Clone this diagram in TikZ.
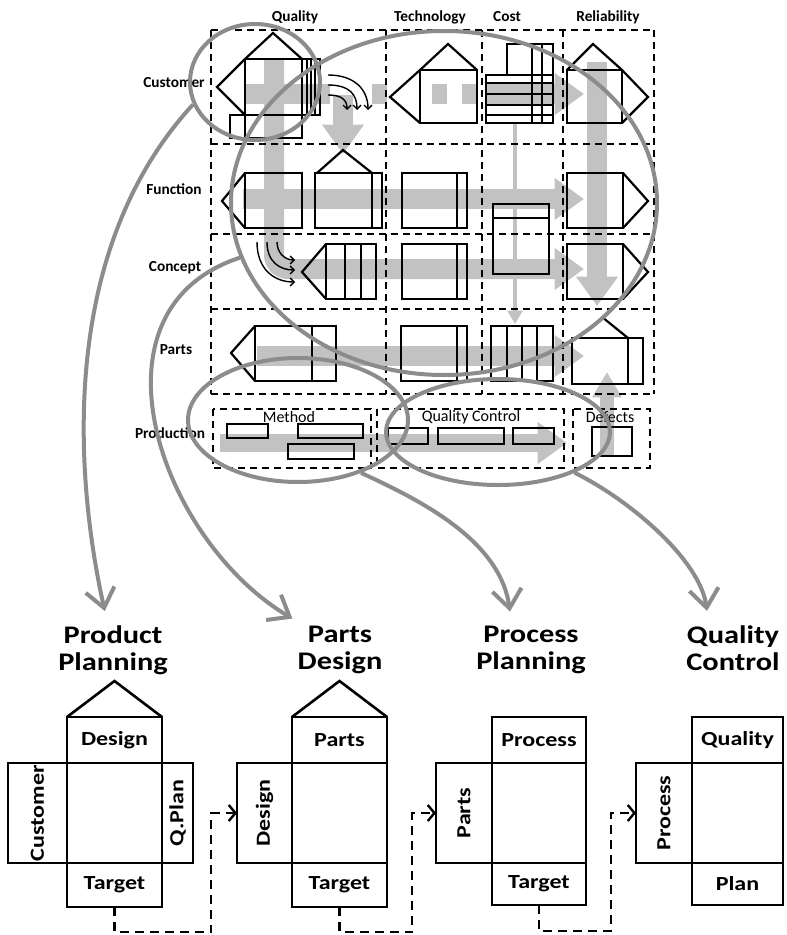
\documentclass[tikz,border=0pt]{standalone}
\usepackage{graphicx}
\usepackage{fontspec}
\setmainfont{Carlito}
\newfontfamily\boxfont[FakeStretch=1.2]{Carlito}
\usetikzlibrary{arrows.meta, positioning, shapes.geometric}
\newlength{\px}
\setlength{\px}{0.75pt}
\definecolor{bandgray}{gray}{0.76}
\definecolor{ringgray}{gray}{0.55}

\tikzset{
  gridline/.style={dash pattern=on 7\px off 5\px, line width=1.8\px},
  flowband/.style={bandgray, line width=20\px},
  bandtip/.style={-{Triangle[length=22pt,width=30pt]}},
  partline/.style={line width=2.2\px},
  ringshape/.style={draw=ringgray, line width=4\px, ellipse, inner sep=0pt},
  bigarrow/.style={ringgray, line width=4\px, -{Straight Barb[length=14pt,width=22pt]}, shorten >=11pt},
  hookarrow/.style={line width=1.4\px, -{Straight Barb[length=3pt,width=6pt]}},
  collabel/.style={inner sep=0pt, font=\fontsize{11.5}{13}\selectfont\bfseries},
  sublabel/.style={inner sep=0pt, font=\fontsize{12}{13}\selectfont},
  titlelabel/.style={inner sep=0pt, align=center, font=\fontsize{19}{20}\boxfont\bfseries},
  housecell/.style={draw, line width=2.6\px, inner sep=0pt, outer sep=0pt,
    font=\fontsize{15}{17}\boxfont\bfseries},
  handover/.style={dash pattern=on 9\px off 6\px, line width=2.4\px,
    -{Straight Barb[length=5pt,width=12pt]}}
}

\begin{document}
\begin{tikzpicture}[x=0.75pt, y=-0.75pt]
  \path[use as bounding box, fill=white] (0,0) rectangle (786,935);

  % Gray flow bands
  \draw[flowband] (245,94) -- (330,94);
  \draw[flowband, dash pattern=on 15\px off 45\px on 15\px off 15\px on 15\px off 15\px] (372,94) -- (478,94);
  \draw[flowband, bandtip] (486,94) -- (584,94);
  \draw[flowband, bandtip] (343,95) -- (343,154);
  \draw[flowband, bandtip, rounded corners=14\px] (274,59) |- (584,269);
  \draw[flowband, bandtip] (243,199) -- (584,199);
  \draw[flowband, bandtip] (257,356) -- (584,356);
  \draw[flowband, bandtip] (597,62) -- (597,306);
  \draw[flowband, bandtip, line width=18\px] (220,443) -- (567,443);
  \draw[flowband, line width=14\px, -{Triangle[length=19pt,width=21pt]}] (607,456) -- (607,372);
  \draw[bandgray, line width=4\px, -{Triangle[length=10pt,width=11pt]}] (515,123) -- (515,324);

  % Grid
  \foreach \y in {30,144,234,309,394}
    \draw[gridline] (211,\y) -- (654,\y);
  \foreach \x in {211,386,482,563,654}
    \draw[gridline] (\x,30) -- (\x,394);
  \draw[gridline] (213,409) rectangle (371,468);
  \draw[gridline] (377,409) rectangle (564,468);
  \draw[gridline] (573,409) rectangle (650,468);

  % Labels
  \node[collabel] (hdQuality) at (295,17) {Quality};
  \node[collabel] (hdTechnology) at (430,17) {Technology};
  \node[collabel] (hdCost) at (507,17) {Cost};
  \node[collabel] (hdReliability) at (608,17) {Reliability};
  \node[collabel] (rwCustomer) at (174,83) {Customer};
  \node[collabel] (rwFunction) at (174,189) {Function};
  \node[collabel] (rwConcept) at (175,268) {Concept};
  \node[collabel] (rwParts) at (176,350) {Parts};
  \node[collabel] (rwProduction) at (170,433) {Production};
  \node[sublabel] (lbMethod) at (289,417) {Method};
  \node[sublabel] (lbControl) at (471,417) {Quality Control};
  \node[sublabel] (lbDefects) at (610,417) {Defects};

  % Customer row
  \draw[partline] (245,59) rectangle (302,115);
  \draw[partline] (245,59) -- (273,33) -- (302,59);
  \draw[partline] (245,59) -- (217,87) -- (245,115);
  \draw[partline] (302,59) rectangle (320,115);
  \foreach \x in {307,311,315}
    \draw[partline] (\x,59) -- (\x,115);
  \draw[partline] (230,115) rectangle (302,138);
  \draw[partline] (245,115) -- (245,138);
  \draw[hookarrow] (328,75) .. controls (355,75) and (368,90) .. (368,110);
  \draw[hookarrow] (328,85) .. controls (350,85) and (357,95) .. (357,110);
  \draw[hookarrow] (328,95) .. controls (342,95) and (347,100) .. (347,110);
  \draw[partline] (420,70) rectangle (477,123);
  \draw[partline] (420,70) -- (448,44) -- (477,70);
  \draw[partline] (420,70) -- (390,97) -- (420,123);
  \draw[partline] (486,75) rectangle (553,123);
  \foreach \y in {83,94,105,115}
    \draw[partline] (486,\y) -- (553,\y);
  \draw[partline] (507,75) -- (507,44) -- (553,44) -- (553,75);
  \foreach \x in {532,542}
    \draw[partline] (\x,44) -- (\x,123);
  \draw[partline] (567,70) rectangle (622,123);
  \draw[partline] (567,70) -- (593,44) -- (622,70);
  \draw[partline] (622,70) -- (648,97) -- (622,123);

  % Function row
  \draw[partline] (245,173) rectangle (302,228);
  \draw[partline] (245,173) -- (222,201) -- (245,228);
  \draw[partline] (315,173) rectangle (382,228);
  \draw[partline] (372,173) -- (372,228);
  \draw[partline] (317,173) -- (343,150) -- (372,173);
  \draw[partline] (402,173) rectangle (467,228);
  \draw[partline] (457,173) -- (457,228);
  \draw[partline] (493,204) rectangle (549,274);
  \draw[partline] (493,218) -- (549,218);
  \draw[partline] (567,173) rectangle (623,228);
  \draw[partline] (623,173) -- (648,201) -- (623,228);

  % Concept row
  \draw[partline] (326,244) rectangle (376,299);
  \foreach \x in {345,361}
    \draw[partline] (\x,244) -- (\x,299);
  \draw[partline] (326,244) -- (302,272) -- (326,299);
  \draw[hookarrow] (257,242) .. controls (257,270) and (275,282) .. (295,282);
  \draw[hookarrow] (267,242) .. controls (267,262) and (280,270) .. (295,270);
  \draw[hookarrow] (277,242) .. controls (277,253) and (285,260) .. (295,260);
  \draw[partline] (402,244) rectangle (467,299);
  \draw[partline] (457,244) -- (457,299);
  \draw[partline] (567,244) rectangle (623,299);
  \draw[partline] (623,244) -- (648,272) -- (623,299);

  % Parts row
  \draw[partline] (255,326) rectangle (336,381);
  \draw[partline] (312,326) -- (312,381);
  \draw[partline] (255,326) -- (231,353) -- (255,381);
  \draw[partline] (401,326) rectangle (467,381);
  \draw[partline] (457,326) -- (457,381);
  \draw[partline] (491,326) rectangle (553,381);
  \foreach \x in {507,522,537}
    \draw[partline] (\x,326) -- (\x,381);
  \draw[partline] (572,338) rectangle (643,384);
  \draw[partline] (628,338) -- (628,384);
  \draw[partline] (602,317) -- (628,338);

  % Production row
  \draw[partline] (227,424) rectangle (268,438);
  \draw[partline] (298,424) rectangle (363,438);
  \draw[partline] (288,444) rectangle (354,459);
  \draw[partline] (388,428) rectangle (428,444);
  \draw[partline] (438,428) rectangle (504,444);
  \draw[partline] (513,428) rectangle (554,444);
  \draw[partline] (592,427) rectangle (632,456);

  % Rings
  \node[ringshape, minimum width=130\px, minimum height=116\px] (custRing) at (255,82) {};
  \node[ringshape, minimum width=426\px, minimum height=344\px] (bigRing) at (444,203) {};
  \node[ringshape, minimum width=220\px, minimum height=124\px] (methRing) at (298,420) {};
  \node[ringshape, minimum width=224\px, minimum height=106\px] (qcRing) at (498,432) {};

  % Titles
  \node[titlelabel] (ppTitle) at (113,650) {Product\\Planning};
  \node[titlelabel] (pdTitle) at (340,650) {Parts\\Design};
  \node[titlelabel] (prTitle) at (531,650) {Process\\Planning};
  \node[titlelabel] (qcTitle) at (733,648) {Quality\\Control};

  \draw[bigarrow] (custRing.200) .. controls (50,260) and (80,500) .. ([xshift=-5\px]ppTitle.north);
  \draw[bigarrow] (bigRing.195) .. controls (80,310) and (160,540) .. ([xshift=-35\px]pdTitle.north);
  \draw[bigarrow] (methRing.-40) .. controls (420,500) and (500,540) .. ([xshift=-19\px]prTitle.north);
  \draw[bigarrow] (qcRing.-28) .. controls (630,500) and (700,560) .. ([xshift=-24\px]qcTitle.north);

  % Product planning house
  \node[housecell, minimum width=95\px, minimum height=100\px] (ppMain) at (114.5,813) {};
  \node[housecell, minimum width=95\px, minimum height=46\px, above=0pt of ppMain] (ppTop) {Design};
  \node[housecell, minimum width=95\px, minimum height=44\px, below=0pt of ppMain] (ppBot) {Target};
  \node[housecell, minimum width=59\px, minimum height=100\px, left=0pt of ppMain] (ppLeft) {\rotatebox{90}{Customer}};
  \node[housecell, minimum width=31\px, minimum height=100\px, right=0pt of ppMain] (ppRight) {\rotatebox{90}{Q.Plan}};
  \draw[line width=2.6\px] (ppTop.north west) -- ++(47.5,-36) -- (ppTop.north east);

  % Parts design house
  \node[housecell, minimum width=95\px, minimum height=100\px] (pdMain) at (339.5,813) {};
  \node[housecell, minimum width=95\px, minimum height=46\px, above=0pt of pdMain] (pdTop) {Parts};
  \node[housecell, minimum width=95\px, minimum height=44\px, below=0pt of pdMain] (pdBot) {Target};
  \node[housecell, minimum width=55\px, minimum height=100\px, left=0pt of pdMain] (pdLeft) {\rotatebox{90}{Design}};
  \draw[line width=2.6\px] (pdTop.north west) -- ++(47.5,-36) -- (pdTop.north east);

  % Process planning house
  \node[housecell, minimum width=94\px, minimum height=100\px] (prMain) at (539,813) {};
  \node[housecell, minimum width=94\px, minimum height=46\px, above=0pt of prMain] (prTop) {Process};
  \node[housecell, minimum width=94\px, minimum height=42\px, below=0pt of prMain] (prBot) {Target};
  \node[housecell, minimum width=56\px, minimum height=100\px, left=0pt of prMain] (prLeft) {\rotatebox{90}{Parts}};

  % Quality control house
  \node[housecell, minimum width=91\px, minimum height=100\px] (qcMain) at (737.5,813) {};
  \node[housecell, minimum width=91\px, minimum height=46\px, above=0pt of qcMain] (qcTop) {Quality};
  \node[housecell, minimum width=91\px, minimum height=42\px, below=0pt of qcMain] (qcBot) {Plan};
  \node[housecell, minimum width=56\px, minimum height=100\px, left=0pt of qcMain] (qcLeft) {\rotatebox{90}{Process}};

  % Hand-over lines
  \draw[handover] (ppBot.south) -- ++(0,25) -| ([xshift=-26\px]pdLeft.west) -- (pdLeft.west);
  \draw[handover] (pdBot.south) -- ++(0,25) -| ([xshift=-24\px]prLeft.west) -- (prLeft.west);
  \draw[handover] (prBot.south) -- ++(0,26) -| ([xshift=-25\px]qcLeft.west) -- (qcLeft.west);
\end{tikzpicture}
\end{document}
